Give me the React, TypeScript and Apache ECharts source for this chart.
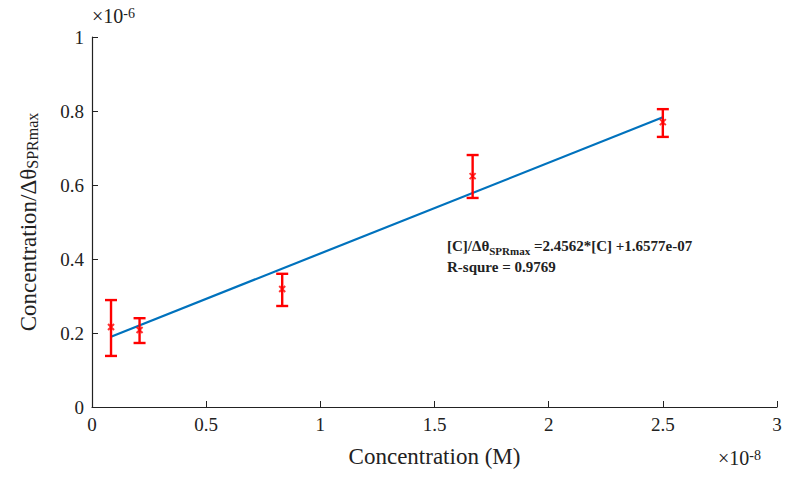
import { useEffect, useRef } from "react";
import * as echarts from "echarts";

// x in units of 1e-8 M, y in units of 1e-6
const concX = [0.0833, 0.2083, 0.833, 1.667, 2.5];
const ratioY = [0.216, 0.208, 0.319, 0.624, 0.77];
const errLow = [0.138, 0.173, 0.273, 0.565, 0.73];
const errHigh = [0.289, 0.24, 0.36, 0.681, 0.805];
const fitLine = [
  [0.0833, 0.19],
  [2.5, 0.783],
];

const FONT = "Liberation Serif";
const CROSS = "path://M0,0L10,10M10,0L0,10";

export default function App() {
  const ref = useRef<HTMLDivElement>(null);

  useEffect(() => {
    if (!ref.current) return;
    const chart = echarts.init(ref.current, undefined, { renderer: "svg" });
    const axisCommon = {
      axisLine: { show: true, lineStyle: { color: "#222", width: 1.2 } },
      axisTick: { inside: true, length: 6, lineStyle: { color: "#222" } },
      splitLine: { show: false },
      axisLabel: { color: "#222", fontFamily: FONT, fontSize: 19 },
      nameTextStyle: { color: "#222", fontFamily: FONT, fontSize: 23 },
    };
    chart.setOption({
      animation: false,
      backgroundColor: "#fff",
      grid: { left: 92, right: 23, top: 37, bottom: 72 },
      xAxis: {
        ...axisCommon,
        type: "value",
        min: 0,
        max: 3,
        interval: 0.5,
        name: "Concentration (M)",
        nameLocation: "middle",
        nameGap: 38,
      },
      yAxis: {
        ...axisCommon,
        type: "value",
        min: 0,
        max: 1,
        interval: 0.2,
        axisLabel: {
          ...axisCommon.axisLabel,
          formatter: (v: number) => String(+v.toFixed(1)),
        },
        name: "{a|Concentration/Δθ}{s|SPRmax}",
        nameLocation: "middle",
        nameRotate: 90,
        nameGap: 52,
        nameTextStyle: {
          rich: {
            a: { fontFamily: FONT, fontSize: 23, color: "#222" },
            s: { fontFamily: FONT, fontSize: 16, color: "#222", verticalAlign: "bottom", lineHeight: 10 },
          },
        },
      },
      graphic: [
        {
          type: "text",
          left: 92,
          top: 6,
          style: {
            text: "{a|×10}{b|-6}",
            rich: {
              a: { fontFamily: FONT, fontSize: 20, fill: "#222" },
              b: { fontFamily: FONT, fontSize: 14, fill: "#222", verticalAlign: "top", lineHeight: 12 },
            },
          },
        },
        {
          type: "text",
          left: 718,
          top: 448,
          style: {
            text: "{a|×10}{b|-8}",
            rich: {
              a: { fontFamily: FONT, fontSize: 20, fill: "#222" },
              b: { fontFamily: FONT, fontSize: 14, fill: "#222", verticalAlign: "top", lineHeight: 12 },
            },
          },
        },
        {
          type: "text",
          left: 447,
          top: 238,
          style: {
            text: "{a|[C]/Δθ}{s|SPRmax}{a| =2.4562*[C] +1.6577e-07}\n{a|R-squre = 0.9769}",
            rich: {
              a: { fontFamily: FONT, fontSize: 15, fontWeight: "bold", fill: "#222", lineHeight: 21 },
              s: { fontFamily: FONT, fontSize: 11, fontWeight: "bold", fill: "#222", verticalAlign: "bottom", lineHeight: 14 },
            },
          },
        },
      ],
      series: [
        {
          type: "line",
          data: fitLine,
          symbol: "none",
          lineStyle: { color: "#0072BD", width: 2.2 },
          z: 2,
        },
        {
          type: "custom",
          data: concX.map((x, i) => [x, errLow[i], errHigh[i]]),
          renderItem: (params: any, api: any) => {
            const lo = api.coord([api.value(0), api.value(1)]);
            const hi = api.coord([api.value(0), api.value(2)]);
            const w = 6;
            const st = { stroke: "#FF0000", lineWidth: 2.4 };
            return {
              type: "group",
              children: [
                { type: "line", shape: { x1: lo[0], y1: lo[1], x2: hi[0], y2: hi[1] }, style: st },
                { type: "line", shape: { x1: lo[0] - w, y1: lo[1], x2: lo[0] + w, y2: lo[1] }, style: st },
                { type: "line", shape: { x1: hi[0] - w, y1: hi[1], x2: hi[0] + w, y2: hi[1] }, style: st },
              ],
            };
          },
          z: 3,
        },
        {
          type: "scatter",
          data: concX.map((x, i) => [x, ratioY[i]]),
          symbol: CROSS,
          symbolSize: 6,
          itemStyle: { color: "none", borderColor: "#FF0000", borderWidth: 2 },
          z: 4,
        },
      ],
    });
    return () => chart.dispose();
  }, []);

  return (
    <div
      ref={ref}
      style={{ position: "absolute", left: 0, top: 0, width: 800, height: 479 }}
    />
  );
}
